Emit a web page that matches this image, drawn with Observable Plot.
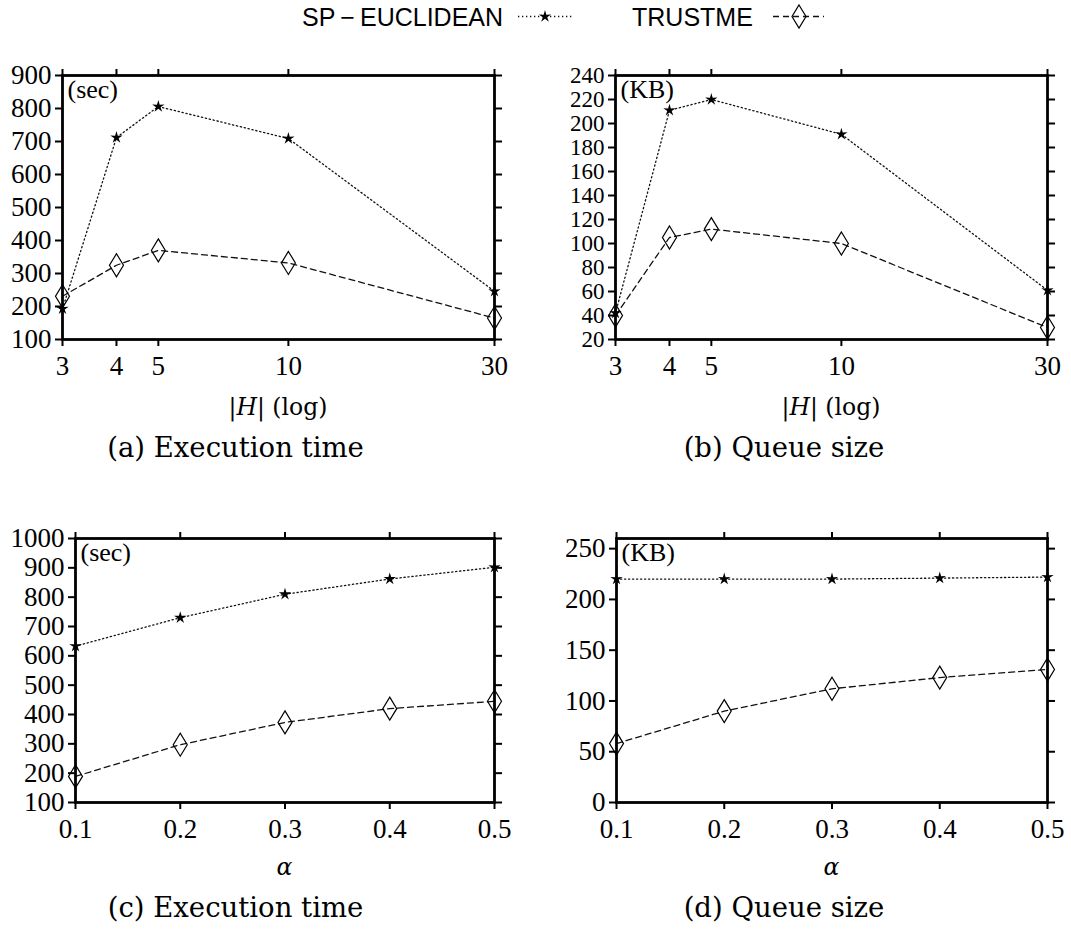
<!DOCTYPE html>
<html>
<head>
<meta charset="utf-8">
<script src="https://cdn.jsdelivr.net/npm/d3@7"></script>
<script src="https://cdn.jsdelivr.net/npm/@observablehq/plot@0.6"></script>
<style>
  html, body { margin: 0; padding: 0; background: white; }
  #root { position: relative; width: 1071px; height: 935px; overflow: hidden; background: white; }
  .abs { position: absolute; }
  svg.pp, svg.pp text { font-family: "Liberation Serif", "DejaVu Serif", serif !important; }
</style>
</head>
<body>
<div id="root"></div>
<script>
// ---------------- data ----------------
const seriesNames = ["SP\u2009\u2212\u2009EUCLIDEAN", "TRUSTME"];
const hValues = [3, 4, 5, 10, 30];
const hTicks = [3, 4, 5, 10, 30];
const alphaValues = [0.1, 0.2, 0.3, 0.4, 0.5];
const alphaTicks = [0.1, 0.2, 0.3, 0.4, 0.5];

const timeH_sp = [193, 712, 806, 709, 246];
const timeH_tm = [231, 325, 370, 332, 165];
const queueH_sp = [42, 211, 220, 191, 61];
const queueH_tm = [40, 105, 112, 100, 30];

const timeA_sp = [633, 730, 810, 862, 902];
const timeA_tm = [189, 297, 373, 420, 445];
const queueA_sp = [220, 220, 220, 221, 222];
const queueA_tm = [58, 90, 112, 123, 131];

const timeH_yTicks = [100, 200, 300, 400, 500, 600, 700, 800, 900];
const queueH_yTicks = [20, 40, 60, 80, 100, 120, 140, 160, 180, 200, 220, 240];
const timeA_yTicks = [100, 200, 300, 400, 500, 600, 700, 800, 900, 1000];
const queueA_yTicks = [0, 50, 100, 150, 200, 250];

const captions = ["(a) Execution time", "(b) Queue size", "(c) Execution time", "(d) Queue size"];
const units = ["(sec)", "(KB)", "(sec)", "(KB)"];

// ---------------- symbols ----------------
const starSymbol = {
  draw(ctx) {
    const R = 6.5, r = 2.3;
    for (let i = 0; i < 10; i++) {
      const a = -Math.PI / 2 + i * Math.PI / 5;
      const rr = i % 2 ? r : R;
      const x = rr * Math.cos(a), y = rr * Math.sin(a);
      if (i === 0) ctx.moveTo(x, y); else ctx.lineTo(x, y);
    }
    ctx.closePath();
  }
};
const diamondSymbol = {
  draw(ctx) {
    const w = 7, h = 11.5;
    ctx.moveTo(0, -h); ctx.lineTo(w, 0); ctx.lineTo(0, h); ctx.lineTo(-w, 0); ctx.closePath();
  }
};

const DOT = "1.3 2.7";
const DASH = "6 4";

const root = document.getElementById("root");

// ---------------- overlay text (legend, axis labels, captions) ----------------
function symPath(sym, cx, cy) {
  const p = d3.path();
  sym.draw(p);
  return `<path transform="translate(${cx},${cy})" d="${p.toString()}"/>`;
}
const overlay = `
<svg class="abs" style="left:0;top:0" width="1071" height="935" xmlns="http://www.w3.org/2000/svg">
  <g font-family="Liberation Sans, Arial, sans-serif" font-size="25" fill="black">
    <text x="302" y="26">${seriesNames[0]}</text>
    <text x="632" y="26">${seriesNames[1]}</text>
  </g>
  <line x1="518" x2="572" y1="16.5" y2="16.5" stroke="#111" stroke-width="1.3" stroke-dasharray="${DOT}"/>
  <g fill="black">${symPath(starSymbol, 545, 16.5)}</g>
  <line x1="773" x2="824" y1="16.5" y2="16.5" stroke="#111" stroke-width="1.3" stroke-dasharray="${DASH}"/>
  <g fill="none" stroke="black" stroke-width="1.2">${symPath(diamondSymbol, 799, 16.5)}</g>
  <g font-family="DejaVu Serif, serif" font-size="23.5" fill="black" text-anchor="middle">
    <text x="278" y="415">|<tspan font-style="italic">H</tspan>| (log)</text>
    <text x="831" y="415">|<tspan font-style="italic">H</tspan>| (log)</text>
    <text x="284.5" y="875" font-style="italic">α</text>
    <text x="831.5" y="875" font-style="italic">α</text>
  </g>
  <g font-family="DejaVu Serif, serif" font-size="27.5" fill="black" text-anchor="middle">
    <text x="235.5" y="457">${captions[0]}</text>
    <text x="784" y="457">${captions[1]}</text>
    <text x="235.5" y="917">${captions[2]}</text>
    <text x="784" y="917">${captions[3]}</text>
  </g>
</svg>`;
root.insertAdjacentHTML("beforeend", overlay);

// ---------------- panels ----------------
function panel({left, top, width, height, fx0, fx1, fy0, fy1, xType, xDomain, xTicks, xFormat, yDomain, yTicks, yFont, sp, tm, xs, unit}) {
  const spData = xs.map((x, i) => ({x, y: sp[i], s: seriesNames[0]}));
  const tmData = xs.map((x, i) => ({x, y: tm[i], s: seriesNames[1]}));
  const chart = Plot.plot({
    width, height,
    marginLeft: fx0 - left,
    marginRight: left + width - fx1,
    marginTop: fy0 - top,
    marginBottom: top + height - fy1,
    style: {background: "transparent", color: "black", overflow: "visible", fontSize: "27px"},
    x: {type: xType, domain: xDomain},
    y: {domain: yDomain},
    marks: [
      Plot.line(spData, {x: "x", y: "y", stroke: "#111", strokeWidth: 1.3, strokeDasharray: DOT}),
      Plot.line(tmData, {x: "x", y: "y", stroke: "#111", strokeWidth: 1.3, strokeDasharray: DASH}),
      Plot.frame({stroke: "black", strokeWidth: 2.8}),
      Plot.axisY({anchor: "left", ticks: yTicks, tickSize: 7, tickPadding: 4, strokeWidth: 2, fontSize: yFont, label: null, tickFormat: d => String(d)}),
      Plot.axisY({anchor: "right", ticks: yTicks, tickSize: 7, strokeWidth: 2, label: null, tickFormat: () => ""}),
      Plot.axisX({anchor: "top", ticks: xTicks, tickSize: 7, strokeWidth: 2, label: null, tickFormat: () => ""}),
      Plot.axisX({anchor: "bottom", ticks: xTicks, tickSize: 7, tickPadding: 9, strokeWidth: 2, fontSize: 27, label: null, tickFormat: xFormat}),
      Plot.dot(spData, {x: "x", y: "y", r: 5, symbol: starSymbol, fill: "black", stroke: "none"}),
      Plot.dot(tmData, {x: "x", y: "y", r: 5, symbol: diamondSymbol, fill: "none", stroke: "black", strokeWidth: 1.2}),
      Plot.text([unit], {text: d => d, frameAnchor: "top-left", textAnchor: "start", lineAnchor: "top", dx: 5, dy: 4, fontSize: 26})
    ]
  });
  chart.classList.add("abs", "pp");
  chart.style.left = left + "px";
  chart.style.top = top + "px";
  chart.style.maxWidth = "none";
  root.appendChild(chart);
}

const fmtH = d => String(d);
const fmtA = d => d3.format(".1f")(d);

panel({left: 0, top: 40, width: 535, height: 340, fx0: 62, fx1: 494, fy0: 75, fy1: 339,
  xType: "log", xDomain: [3, 30], xTicks: hTicks, xFormat: fmtH,
  yDomain: [100, 900], yTicks: timeH_yTicks, yFont: 27, sp: timeH_sp, tm: timeH_tm, xs: hValues, unit: units[0]});
panel({left: 535, top: 40, width: 536, height: 340, fx0: 615, fx1: 1047, fy0: 75, fy1: 339,
  xType: "log", xDomain: [3, 30], xTicks: hTicks, xFormat: fmtH,
  yDomain: [20, 240], yTicks: queueH_yTicks, yFont: 23, sp: queueH_sp, tm: queueH_tm, xs: hValues, unit: units[1]});
panel({left: 0, top: 500, width: 535, height: 340, fx0: 75, fx1: 494, fy0: 538, fy1: 802,
  xType: "linear", xDomain: [0.1, 0.5], xTicks: alphaTicks, xFormat: fmtA,
  yDomain: [100, 1000], yTicks: timeA_yTicks, yFont: 27, sp: timeA_sp, tm: timeA_tm, xs: alphaValues, unit: units[2]});
panel({left: 535, top: 500, width: 536, height: 340, fx0: 616, fx1: 1047, fy0: 538, fy1: 802,
  xType: "linear", xDomain: [0.1, 0.5], xTicks: alphaTicks, xFormat: fmtA,
  yDomain: [0, 260], yTicks: queueA_yTicks, yFont: 27, sp: queueA_sp, tm: queueA_tm, xs: alphaValues, unit: units[3]});
</script>
</body>
</html>
